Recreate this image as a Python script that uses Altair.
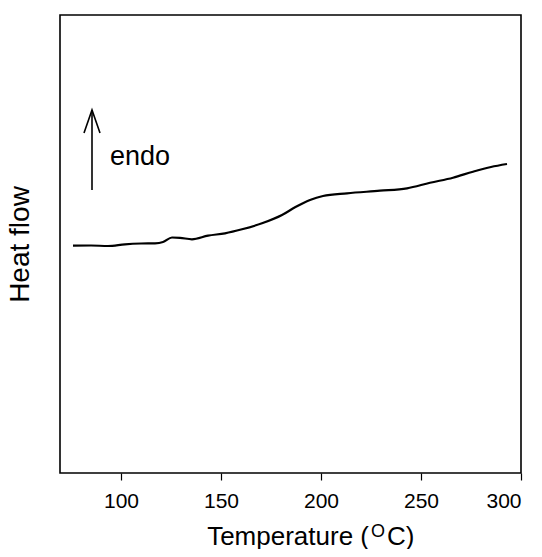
import altair as alt
import pandas as pd

# DSC trace (temperature in °C, heat flow in arbitrary units)
temperature = [76, 85, 93.5, 102, 110, 117, 121, 125.5, 129.5, 135.5, 143.5, 152, 160.5,
               170.5, 180.5, 187, 194.5, 201, 213, 229.5, 243, 254.5, 266, 276, 285, 293]
heat_flow = [2.273, 2.275, 2.27, 2.287, 2.295, 2.297, 2.31, 2.355, 2.352, 2.337, 2.373,
             2.397, 2.437, 2.497, 2.58, 2.657, 2.73, 2.77, 2.797, 2.823, 2.847, 2.903,
             2.953, 3.013, 3.06, 3.09]

arrow_shaft_x = [85.5, 85.5]
arrow_shaft_y = [2.83, 3.63]
arrow_head_x = [81.5, 85.5, 89.5]
arrow_head_y = [3.40, 3.63, 3.40]
label_text = ["endo"]
label_x = [94.5]
label_y = [3.16]

x_ticks = [100, 150, 200, 250, 300]
x_domain = [69.5, 300]
y_domain = [0, 4.58]

FONT = "Liberation Sans"

curve_df = pd.DataFrame({"T": temperature, "H": heat_flow})
shaft_df = pd.DataFrame({"T": arrow_shaft_x, "H": arrow_shaft_y})
head_df = pd.DataFrame({"T": arrow_head_x, "H": arrow_head_y, "o": [0, 1, 2]})
label_df = pd.DataFrame({"T": label_x, "H": label_y, "t": label_text})

xs = alt.Scale(domain=x_domain, nice=False, zero=False)
ys = alt.Scale(domain=y_domain, nice=False, zero=False)

x_axis = alt.Axis(values=x_ticks, grid=False, title=None, labelFont=FONT, labelFontSize=21,
                  labelColor="black", tickColor="black", tickSize=7, tickWidth=1.2,
                  domain=False, labelPadding=10)
y_axis = alt.Axis(grid=False, labels=False, ticks=False, domain=False, title="Heat flow",
                  titleFont=FONT, titleFontSize=28, titleFontWeight="normal",
                  titleColor="black", titlePadding=26)

curve = alt.Chart(curve_df).mark_line(color="black", strokeWidth=2.2, interpolate="monotone").encode(
    x=alt.X("T:Q", scale=xs, axis=x_axis),
    y=alt.Y("H:Q", scale=ys, axis=y_axis),
)

shaft = alt.Chart(shaft_df).mark_line(color="black", strokeWidth=1.6).encode(
    x=alt.X("T:Q", scale=xs), y=alt.Y("H:Q", scale=ys))
head = alt.Chart(head_df).mark_line(color="black", strokeWidth=1.6).encode(
    x=alt.X("T:Q", scale=xs), y=alt.Y("H:Q", scale=ys), order="o:Q")
label = alt.Chart(label_df).mark_text(font=FONT, fontSize=27, align="left", baseline="middle",
                                      color="black").encode(
    x=alt.X("T:Q", scale=xs), y=alt.Y("H:Q", scale=ys), text="t:N")

one = pd.DataFrame({"a": [0]})
t1 = alt.Chart(one).mark_text(text="Temperature (", font=FONT, fontSize=26, align="right",
                              baseline="alphabetic", color="black").encode(
    x=alt.value(309), y=alt.value(530))
t2 = alt.Chart(one).mark_text(text="O", font=FONT, fontSize=18, align="left",
                              baseline="alphabetic", color="black").encode(
    x=alt.value(311), y=alt.value(522))
t3 = alt.Chart(one).mark_text(text="C)", font=FONT, fontSize=26, align="left",
                              baseline="alphabetic", color="black").encode(
    x=alt.value(327), y=alt.value(530))

chart = alt.layer(curve, shaft, head, label, t1, t2, t3).properties(
    width=461, height=458,
    autosize=alt.AutoSizeParams(type="none"),
    padding={"left": 52, "top": 7, "right": 13, "bottom": 76},
).configure(background="white").configure_view(stroke="black", strokeWidth=1.6)

chart.save("out.html", embed_options={"renderer": "svg", "actions": False})
